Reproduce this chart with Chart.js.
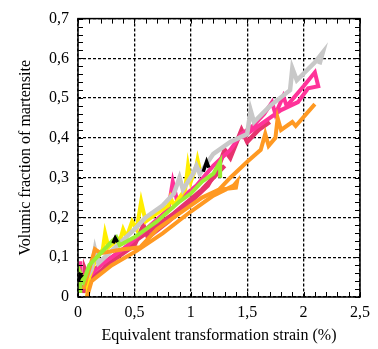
<!DOCTYPE html>
<html>
<head>
<meta charset="utf-8">
<script src="https://cdn.jsdelivr.net/npm/chart.js@4"></script>
<style>
  body { margin: 0; background: #fff; }
  canvas { display: block; }
</style>
</head>
<body>
<canvas id="chart" width="378" height="349"></canvas>
<script>
// measured curves, [strain %, fraction]
const blackBits1 = [[0.0,0.04],[0.02,0.055],[0.04,0.05]];
const blackBits2 = [[0.31,0.135],[0.33,0.148],[0.35,0.138]];
const blackBits3 = [[1.11,0.315],[1.14,0.34],[1.16,0.325]];
const greenCurve = [[0.02,0.01],[0.02,0.06],[0.05,0.04],[0.1,0.08],[0.2,0.11],[0.3,0.14],[0.34,0.15],[0.37,0.13],[0.5,0.15],[0.7,0.19],[0.9,0.24],[1.0,0.26],[1.1,0.29],[1.2,0.31],[1.26,0.34],[1.26,0.3]];
const yellowCurve = [[0.08,0.0],[0.1,0.05],[0.15,0.09],[0.22,0.12],[0.24,0.16],[0.27,0.125],[0.38,0.15],[0.4,0.17],[0.43,0.15],[0.48,0.19],[0.52,0.17],[0.56,0.24],[0.6,0.19],[0.7,0.21],[0.8,0.23],[0.82,0.25],[0.85,0.23],[0.95,0.27],[0.975,0.33],[1.0,0.29],[1.05,0.33],[1.06,0.345],[1.08,0.32]];
const orangeCurve1 = [[0.05,0.02],[0.12,0.09],[0.15,0.12],[0.2,0.11],[0.4,0.12],[0.55,0.125],[0.7,0.17],[0.9,0.21],[1.1,0.25],[1.25,0.27]];
const orangeCurve2 = [[0.08,0.0],[0.12,0.04],[0.3,0.08],[0.52,0.116],[0.75,0.16],[1.0,0.215],[1.2,0.255],[1.38,0.28],[1.41,0.29],[1.4,0.275],[1.25,0.27],[1.35,0.3],[1.5,0.34],[1.62,0.37],[1.66,0.41],[1.69,0.38],[1.75,0.4],[1.77,0.45],[1.8,0.42],[1.9,0.44],[1.93,0.43],[2.1,0.485]];
const grayCurve = [[0.04,0.03],[0.12,0.07],[0.15,0.12],[0.18,0.085],[0.35,0.13],[0.5,0.17],[0.6,0.2],[0.75,0.23],[0.85,0.26],[0.9,0.3],[0.93,0.27],[1.02,0.31],[1.05,0.33],[1.08,0.31],[1.2,0.36],[1.35,0.39],[1.5,0.41],[1.53,0.47],[1.56,0.44],[1.7,0.48],[1.88,0.52],[1.9,0.575],[1.94,0.545],[2.1,0.59],[2.17,0.615],[2.14,0.585]];
const pinkCurve = [[0.02,0.09],[0.02,0.05],[0.06,0.04],[0.2,0.08],[0.4,0.12],[0.6,0.17],[0.8,0.22],[0.84,0.29],[0.88,0.24],[1.05,0.28],[1.2,0.33],[1.35,0.37],[1.45,0.41],[1.55,0.43],[1.65,0.46],[1.72,0.49],[1.75,0.46],[1.82,0.505],[1.85,0.48],[2.0,0.53],[2.1,0.565],[2.13,0.53],[2.04,0.525],[1.95,0.49],[1.8,0.47],[1.6,0.43],[1.45,0.4]];
const crimsonCurve1 = [[0.05,0.01],[0.06,0.07],[0.1,0.04],[0.3,0.09],[0.5,0.13],[0.58,0.18],[0.62,0.15],[0.8,0.19],[1.0,0.24],[1.15,0.28],[1.25,0.33],[1.3,0.37],[1.35,0.35],[1.45,0.42],[1.5,0.39],[1.6,0.42],[1.7,0.44]];
const crimsonCurve2 = [[0.08,0.03],[0.15,0.07],[0.35,0.11],[0.6,0.16],[0.85,0.21],[1.1,0.27],[1.3,0.33]];

const xTicks = [0, 0.5, 1, 1.5, 2, 2.5];
const yTicks = [0, 0.1, 0.2, 0.3, 0.4, 0.5, 0.6, 0.7];

function toPoints(arr) {
  return arr.map(p => ({ x: p[0], y: p[1] }));
}

function curve(arr, color, width) {
  return {
    data: toPoints(arr),
    showLine: true,
    borderColor: color,
    backgroundColor: color,
    borderWidth: width,
    pointRadius: 0,
    tension: 0,
    borderJoinStyle: 'miter',
  };
}

function fmt(v) {
  return String(Number(v.toFixed(2))).replace('.', ',');
}

// frame and inward minor ticks on all four sides
const framePlugin = {
  id: 'frame',
  afterDatasetsDraw(chart) {
    const { ctx, chartArea: a, scales } = chart;
    ctx.save();
    ctx.strokeStyle = '#000';
    ctx.lineWidth = 1;
    ctx.beginPath();
    for (let i = 0; i <= 25; i++) {
      const px = Math.round(scales.x.getPixelForValue(i / 10)) + 0.5;
      ctx.moveTo(px, a.bottom); ctx.lineTo(px, a.bottom - 5);
      ctx.moveTo(px, a.top); ctx.lineTo(px, a.top + 5);
    }
    for (let i = 0; i <= 35; i++) {
      const py = Math.round(scales.y.getPixelForValue(i / 50)) + 0.5;
      ctx.moveTo(a.left, py); ctx.lineTo(a.left + 5, py);
      ctx.moveTo(a.right, py); ctx.lineTo(a.right - 5, py);
    }
    ctx.stroke();
    ctx.lineWidth = 1.5;
    ctx.strokeRect(a.left, a.top, a.right - a.left, a.bottom - a.top);
    ctx.restore();
  }
};

const serif = 'Liberation Serif';

new Chart(document.getElementById('chart'), {
  type: 'scatter',
  data: {
    datasets: [
      curve(blackBits1, '#000000', 4),
      curve(blackBits2, '#000000', 3.5),
      curve(blackBits3, '#000000', 3.5),
      curve(greenCurve, '#99ee33', 4),
      curve(orangeCurve1, '#ff9922', 4),
      curve(orangeCurve2, '#ff9922', 4),
      curve(grayCurve, '#c8c8c8', 4.5),
      curve(yellowCurve, '#ffee00', 4),
      curve(pinkCurve, '#ff3399', 4),
      curve(crimsonCurve2, '#e6336e', 4.5),
      curve(crimsonCurve1, '#e6336e', 4.5),
    ],
  },
  options: {
    responsive: false,
    animation: false,
    layout: { padding: { top: 13, right: 18, left: 0, bottom: 0 } },
    plugins: {
      legend: { display: false },
      tooltip: { enabled: false },
    },
    scales: {
      x: {
        type: 'linear',
        min: 0,
        max: 2.5,
        afterBuildTicks: s => { s.ticks = xTicks.map(v => ({ value: v })); },
        afterFit: s => { s.height = 52; },
        ticks: {
          color: '#000',
          padding: 6,
          maxRotation: 0,
          font: { family: serif, size: 16 },
          callback: v => fmt(v),
        },
        grid: { color: '#000', lineWidth: 1.3, drawTicks: false },
        border: { display: false, dash: [3, 2] },
        title: {
          display: true,
          text: 'Equivalent transformation strain (%)',
          color: '#000',
          font: { family: serif, size: 16 },
          padding: { top: 0, bottom: 4 },
        },
      },
      y: {
        type: 'linear',
        min: 0,
        max: 0.7,
        afterBuildTicks: s => { s.ticks = yTicks.map(v => ({ value: v })); },
        afterFit: s => { s.width = 78; },
        ticks: {
          color: '#000',
          padding: 9,
          font: { family: serif, size: 16 },
          callback: v => fmt(v),
        },
        grid: { color: '#000', lineWidth: 1.3, drawTicks: false },
        border: { display: false, dash: [3, 2] },
        title: {
          display: true,
          text: 'Volumic fraction of martensite',
          color: '#000',
          font: { family: serif, size: 16 },
          padding: { top: 16, bottom: 0 },
        },
      },
    },
  },
  plugins: [framePlugin],
});
</script>
</body>
</html>
